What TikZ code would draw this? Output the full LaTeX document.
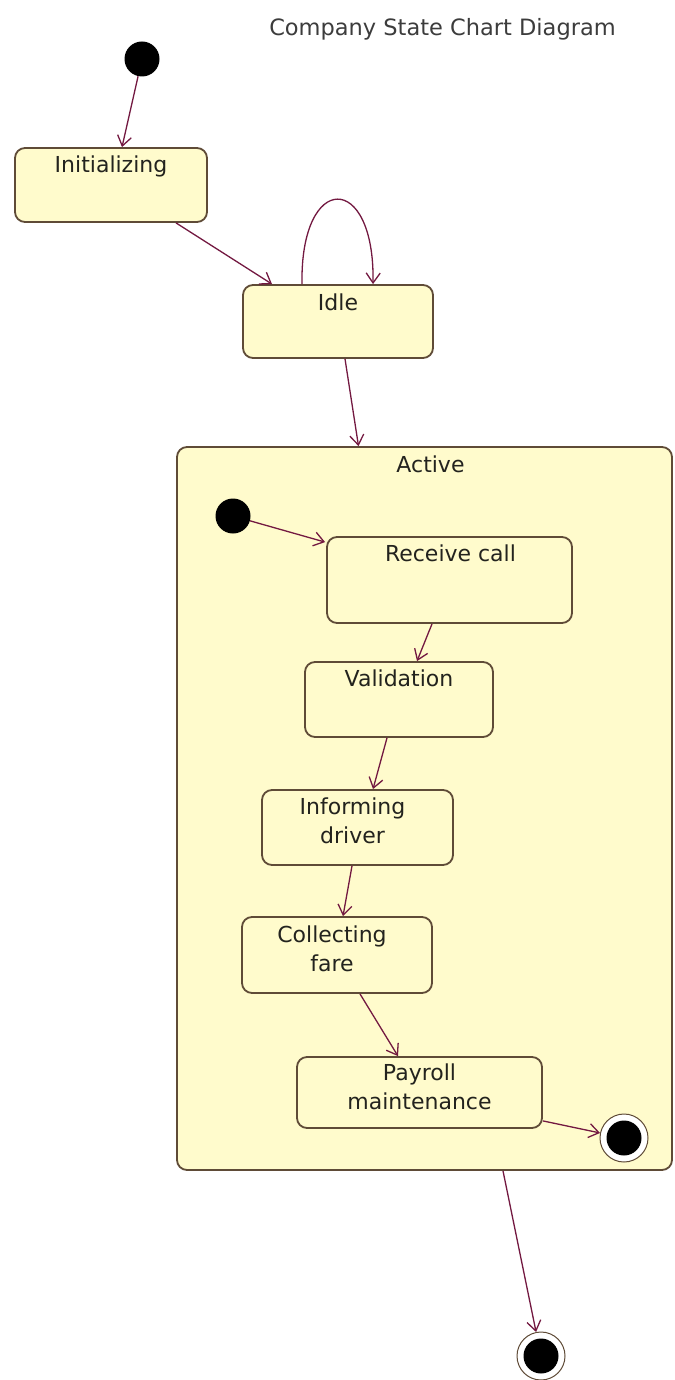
\documentclass[tikz,border=0pt]{standalone}
\usepackage{fontspec}
\setmainfont{DejaVu Sans}
\usetikzlibrary{arrows.meta,calc}

\definecolor{boxfill}{RGB}{255,251,204}
\definecolor{boxline}{RGB}{95,75,55}
\definecolor{flow}{RGB}{115,25,65}
\definecolor{ink}{RGB}{35,35,30}
\definecolor{titleink}{RGB}{60,60,60}

\begin{document}
\begin{tikzpicture}[x=1pt,y=-1pt,
  state/.style={draw=boxline, fill=boxfill, line width=1.8pt,
    rounded corners=10pt, inner sep=0pt},
  % a multi-line label sits on the baseline of its last line
  lbl/.style={font=\fontsize{22}{29}\selectfont, text=ink, inner sep=0pt,
    align=center, anchor=base},
  tr/.style={draw=flow, line width=1.3pt,
    -{Straight Barb[length=10pt,width=14pt]}},
  initial/.style={circle, fill=black, minimum size=35pt, inner sep=0pt},
  final/.style={circle, draw=boxline, fill=white, line width=1pt,
    minimum size=48pt, inner sep=0pt,
    path picture={\fill[black] (path picture bounding box.center) circle (17.5pt);}}]

\useasboundingbox (0,0) rectangle (674,1380);

% title
\node[font=\fontsize{22.5}{28}\selectfont, text=titleink, inner sep=0pt, anchor=base]
  (title) at (442.5,36) {Company State Chart Diagram};

% top level states
\node[initial] (start) at (142,59) {};
\node[state, minimum width=192, minimum height=74] (init) at (111,185) {};
\node[lbl] (initT) at ($(init.north)+(0,25)$) {Initializing};
\node[state, minimum width=190, minimum height=73] (idle) at (338,321.5) {};
\node[lbl] (idleT) at ($(idle.north)+(0,26)$) {Idle};

% composite state
\node[state, minimum width=495, minimum height=723] (active) at (424.5,808.5) {};
\node[lbl] (activeT) at ($(active.north)+(6,26)$) {Active};

% substates
\node[initial] (s2) at (233,516) {};
\node[state, minimum width=245, minimum height=86] (rc) at (449.5,580) {};
\node[lbl] (rcT) at ($(rc.north)+(1,25)$) {Receive call};
\node[state, minimum width=188, minimum height=75] (val) at (399,699.5) {};
\node[lbl] (valT) at ($(val.north)+(0,25)$) {Validation};
\node[state, minimum width=191, minimum height=75] (inf) at (357.5,827.5) {};
\node[lbl] (infT) at ($(inf.north)+(-5,54)$) {Informing\\driver};
\node[state, minimum width=190, minimum height=76] (coll) at (337,955) {};
\node[lbl] (collT) at ($(coll.north)+(-5,55)$) {Collecting\\fare};
\node[state, minimum width=245, minimum height=71] (pay) at (419.5,1092.5) {};
\node[lbl] (payT) at ($(pay.north)+(0,53)$) {Payroll\\maintenance};
\node[final] (f1) at (624,1138) {};

% final state
\node[final] (f2) at (541,1356) {};

% transitions
\draw[tr] (start) -- ($(init.north)+(11,0)$);
\draw[tr] ($(init.south)+(65,0)$) -- ($(idle.north)+(-66,0)$);
\draw[tr] ($(idle.north)+(-36,0)$) .. controls ($(idle.north)+(-38,-113)$)
  and ($(idle.north)+(37,-113)$) .. ($(idle.north)+(35,0)$);
\draw[tr] ($(idle.south)+(7,0)$) -- ($(active.north)+(-66,0)$);
\draw[tr] (s2) -- ($(rc.north west)+(-1,6)$);
\draw[tr] ($(rc.south)+(-17.5,0)$) -- ($(val.north)+(18,0)$);
\draw[tr] ($(val.south)+(-12,0)$) -- ($(inf.north)+(15.5,0)$);
\draw[tr] ($(inf.south)+(-5.5,0)$) -- ($(coll.north)+(6,0)$);
\draw[tr] ($(coll.south)+(23,0)$) -- ($(pay.north)+(-21.5,0)$);
\draw[tr] ($(pay.south east)+(0,-8)$) -- (f1);
\draw[tr] ($(active.south)+(78.5,0)$) -- (f2);
\end{tikzpicture}
\end{document}
